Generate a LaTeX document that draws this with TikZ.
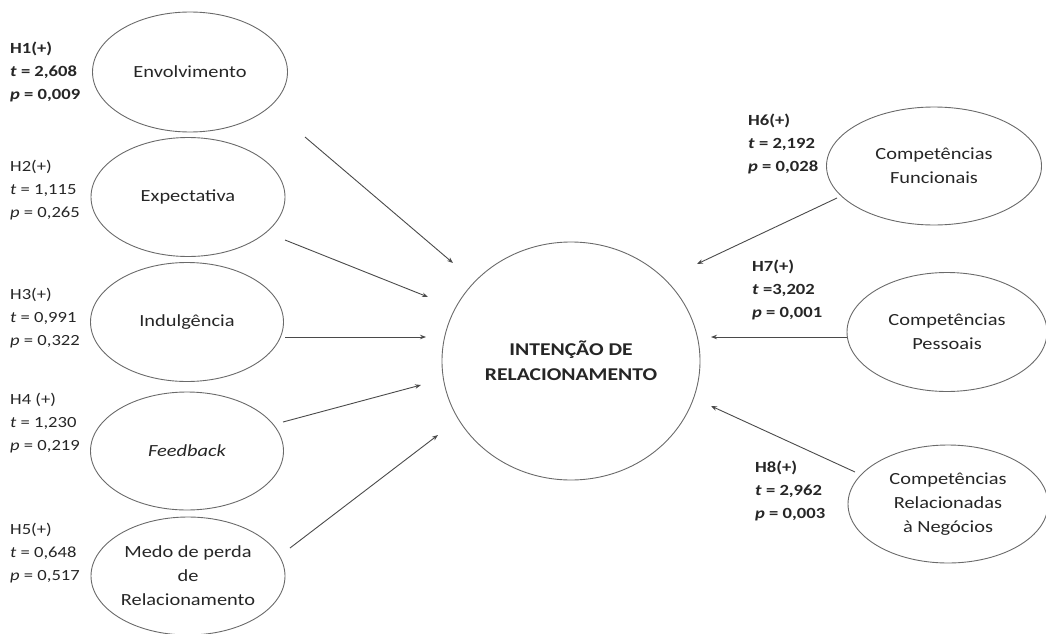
\documentclass[tikz,border=0pt]{standalone}
\usepackage{fontspec}
\setmainfont{Carlito}[FakeStretch=1.2]
\usetikzlibrary{arrows.meta,shapes.geometric}
\definecolor{txt}{HTML}{262626}
\definecolor{edge}{HTML}{6A6A6A}
\definecolor{arr}{HTML}{4A4A4A}
\begin{document}
\begin{tikzpicture}[x=1pt,y=-1pt,
  lat/.style={ellipse, draw=edge, line width=0.9pt, inner sep=0pt, align=center, text=txt,
    font={\fontsize{17}{24}\selectfont}},
  hyp/.style={anchor=west, inner sep=0pt, align=left, text=txt,
    font={\fontsize{15.5}{23}\selectfont}},
  path/.style={draw=arr, line width=0.9pt, -{Stealth[length=6pt,width=4.5pt]}}]
\useasboundingbox (0,0) rectangle (1046,634);

% latent variables
\node[lat, minimum width=195pt, minimum height=120pt] (env) at (190,72) {Envolvimento};
\node[lat, minimum width=194pt, minimum height=119pt] (exp) at (188,197) {Expectativa};
\node[lat, minimum width=193pt, minimum height=119pt] (ind) at (187,322) {Indulgência};
\node[lat, minimum width=193pt, minimum height=118pt] (fee) at (187,451) {\itshape Feedback};
\node[lat, minimum width=194pt, minimum height=118pt] (med) at (188,576) {Medo de perda\\de\\Relacionamento};
\node[ellipse, draw=edge, line width=0.9pt, inner sep=0pt, align=center, text=txt,
  minimum width=258pt, minimum height=238pt, font={\fontsize{18}{25}\selectfont\bfseries}]
  (int) at (571,361) {INTENÇÃO DE\\RELACIONAMENTO};
\node[lat, minimum width=215pt, minimum height=118pt] (fun) at (934,166) {Competências\\Funcionais};
\node[lat, minimum width=200pt, minimum height=119pt] (pes) at (947,332) {Competências\\Pessoais};
\node[lat, minimum width=200pt, minimum height=118pt] (neg) at (948,504) {Competências\\Relacionadas\\à Negócios};

% hypothesis labels
\node[hyp, font={\fontsize{15.5}{23}\selectfont\bfseries}] (h1) at (10,72) {H1(+)\\\textit{t} = 2,608\\\textit{p} = 0,009};
\node[hyp] (h2) at (10,190) {H2(+)\\\textit{t} = 1,115\\\textit{p} = 0,265};
\node[hyp] (h3) at (10,318) {H3(+)\\\textit{t} = 0,991\\\textit{p} = 0,322};
\node[hyp] (h4) at (10,423) {H4 (+)\\\textit{t} = 1,230\\\textit{p} = 0,219};
\node[hyp] (h5) at (10,553) {H5(+)\\\textit{t} = 0,648\\\textit{p} = 0,517};
\node[hyp, font={\fontsize{15.5}{23}\selectfont\bfseries}] (h6) at (748,144) {H6(+)\\\textit{t} = 2,192\\\textit{p} = 0,028};
\node[hyp, font={\fontsize{15.5}{23}\selectfont\bfseries}] (h7) at (752,290) {H7(+)\\\textit{t} =3,202\\\textit{p} = 0,001};
\node[hyp, font={\fontsize{15.5}{23}\selectfont\bfseries}] (h8) at (755,491) {H8(+)\\\textit{t} = 2,962\\\textit{p} = 0,003};

% connector end points
\coordinate (s1) at (305,137); \coordinate (e1) at (453,263);
\coordinate (s2) at (285,240); \coordinate (e2) at (428,297);
\coordinate (s3) at (285,337); \coordinate (e3) at (426,337);
\coordinate (s4) at (283,422); \coordinate (e4) at (421,385);
\coordinate (s5) at (290,548); \coordinate (e5) at (438,435);
\coordinate (s6) at (837,198); \coordinate (e6) at (697,264);
\coordinate (s7) at (847,337); \coordinate (e7) at (711,337);
\coordinate (s8) at (855,472); \coordinate (e8) at (711,406);

\draw[path] (s1) -- (e1);
\draw[path] (s2) -- (e2);
\draw[path] (s3) -- (e3);
\draw[path] (s4) -- (e4);
\draw[path] (s5) -- (e5);
\draw[path] (s6) -- (e6);
\draw[path] (s7) -- (e7);
\draw[path] (s8) -- (e8);
\end{tikzpicture}
\end{document}
